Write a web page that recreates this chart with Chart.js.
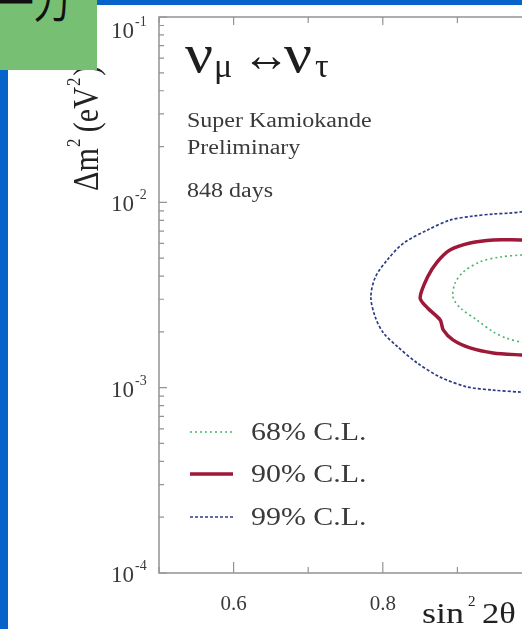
<!DOCTYPE html>
<html>
<head>
<meta charset="utf-8">
<script src="https://cdn.jsdelivr.net/npm/chart.js@4.4.1/dist/chart.umd.min.js"></script>
<style>
  html, body { margin: 0; padding: 0; width: 522px; height: 629px; overflow: hidden; background: #0563c9; }
  #panel { position: absolute; left: 8px; top: 5px; width: 600px; height: 700px; background: #ffffff; z-index: 1; }
  #oscChart { position: absolute; left: 0; top: 0; z-index: 2; }
  #tag { position: absolute; left: 0; top: 0; width: 97px; height: 70px; background: #77bf72; overflow: hidden; z-index: 5; }
  #tag span { position: absolute; left: -2px; top: -31px; font: 42px "Noto Sans CJK SC", sans-serif; color: #111; white-space: nowrap; transform: scaleX(0.85); transform-origin: left top; }
</style>
</head>
<body>
<div id="panel"></div>
<canvas id="oscChart" width="545" height="629"></canvas>
<div id="tag"><span>一刀</span></div>

<script>
// =========================
// Data
// =========================

const xTickValues = [0.5, 0.6, 0.7, 0.8, 0.9, 1.0];
const xTickLabels = ["0.6", "0.8"];
const yDecades = [-4, -3, -2, -1];

const cl68Label = "68% C.L.";
const cl68X = [1.0, 0.986, 0.957, 0.930, 0.908, 0.897, 0.894, 0.904, 0.926, 0.948, 0.966, 0.986, 1.0];
const cl68Y = [5.25e-3, 5.20e-3, 5.07e-3, 4.77e-3, 4.21e-3, 3.67e-3, 3.08e-3, 2.69e-3, 2.32e-3, 2.00e-3, 1.85e-3, 1.76e-3, 1.74e-3];

const cl90Label = "90% C.L.";
const cl90X = [1.0, 0.986, 0.948, 0.917, 0.890, 0.873, 0.860, 0.850, 0.860, 0.877, 0.881, 0.894, 0.917, 0.948, 0.986, 1.0];
const cl90Y = [6.3e-3, 6.27e-3, 6.27e-3, 6.03e-3, 5.53e-3, 4.77e-3, 3.95e-3, 3.05e-3, 2.69e-3, 2.32e-3, 2.05e-3, 1.81e-3, 1.64e-3, 1.54e-3, 1.50e-3, 1.49e-3];

const cl99Label = "99% C.L.";
const cl99X = [1.0, 0.986, 0.970, 0.948, 0.921, 0.890, 0.860, 0.828, 0.806, 0.790, 0.784, 0.790, 0.801, 0.820, 0.846, 0.877, 0.913, 0.948, 0.986, 1.0];
const cl99Y = [9.2e-3, 8.9e-3, 8.75e-3, 8.65e-3, 8.43e-3, 8.02e-3, 7.09e-3, 6.03e-3, 4.89e-3, 3.95e-3, 3.08e-3, 2.40e-3, 1.97e-3, 1.66e-3, 1.36e-3, 1.14e-3, 1.01e-3, 0.97e-3, 0.946e-3, 0.94e-3];

const toPoints = (xs, ys) => xs.map((x, i) => ({ x: x, y: ys[i] }));

const SERIF = "'Liberation Serif', 'DejaVu Serif', serif";
const AXIS_GREY = "#939393";
const TEXT = "#3a3a3a";

// the scanned figure is a bit wider than tall, so text gets stretched
function wideText(ctx, text, x, y, sx) {
  ctx.save();
  ctx.translate(x, y);
  ctx.scale(sx, 1);
  ctx.fillText(text, 0, 0);
  ctx.restore();
}


// =========================
// Frame, ticks and texts
// =========================

const framePlugin = {
  id: "frame",
  afterDraw(chart) {
    const ctx = chart.ctx;
    const a = chart.chartArea;
    const xs = chart.scales.x;
    const ys = chart.scales.y;

    ctx.save();

    // box
    ctx.strokeStyle = AXIS_GREY;
    ctx.lineWidth = 1.5;
    ctx.strokeRect(a.left, a.top, a.right - a.left, a.bottom - a.top);

    // y ticks (log, inward on both sides)
    ctx.lineWidth = 1.2;
    yDecades.forEach(e => {
      for (let k = 1; k <= 9; k++) {
        if (e === -1 && k > 1) break;
        const py = ys.getPixelForValue(k * Math.pow(10, e));
        const len = k === 1 ? 8 : 5;
        ctx.beginPath();
        ctx.moveTo(a.left, py); ctx.lineTo(a.left + len, py);
        ctx.moveTo(a.right, py); ctx.lineTo(a.right - len, py);
        ctx.stroke();
      }
    });

    // x ticks (inward top and bottom)
    xTickValues.forEach(v => {
      const px = xs.getPixelForValue(v);
      const major = Math.round(v * 10) % 2 === 0;
      const len = major ? 11 : 6;
      ctx.beginPath();
      ctx.moveTo(px, a.bottom); ctx.lineTo(px, a.bottom - len);
      ctx.moveTo(px, a.top); ctx.lineTo(px, a.top + (major ? 8 : 6));
      ctx.stroke();
    });

    // y tick labels 10^-n
    ctx.fillStyle = TEXT;
    ctx.textBaseline = "alphabetic";
    yDecades.forEach(e => {
      let py = ys.getPixelForValue(Math.pow(10, e));
      if (py < a.top + 12) py = a.top + 12;
      ctx.font = "23px " + SERIF;
      ctx.textAlign = "right";
      ctx.fillText("10", a.left - 25, py + 9);
      ctx.font = "14px " + SERIF;
      ctx.textAlign = "left";
      ctx.fillText("-" + (-e), a.left - 24, py - 3);
    });

    // x tick labels
    ctx.font = "21px " + SERIF;
    ctx.textAlign = "center";
    xTickLabels.forEach(t => {
      const px = xs.getPixelForValue(parseFloat(t));
      ctx.fillText(t, px, a.bottom + 37);
    });

    // x title: sin^2 2θ
    ctx.fillStyle = "#222";
    ctx.textAlign = "left";
    ctx.font = "30px " + SERIF;
    wideText(ctx, "sin", 422, 623, 1.2);
    ctx.font = "15px " + SERIF;
    ctx.fillText("2", 468, 606);
    ctx.font = "30px " + SERIF;
    wideText(ctx, "2θ", 482, 623, 1.15);

    // y title: Δm² (eV²), rotated
    ctx.save();
    ctx.translate(98, 191);
    ctx.rotate(-Math.PI / 2);
    ctx.scale(1.12, 1.3);
    ctx.font = "27px " + SERIF;
    ctx.fillText("Δm", 0, 0);
    let w = ctx.measureText("Δm").width;
    ctx.font = "15px " + SERIF;
    ctx.fillText("2", w + 1, -14);
    ctx.font = "27px " + SERIF;
    ctx.fillText("(eV", w + 14, 0);
    let w2 = ctx.measureText("(eV").width;
    ctx.font = "15px " + SERIF;
    ctx.fillText("2", w + 15 + w2, -14);
    ctx.font = "27px " + SERIF;
    ctx.fillText(")", w + 24 + w2, 0);
    ctx.restore();

    // reaction title
    ctx.fillStyle = "#1e1e1e";
    ctx.font = "54px " + SERIF;
    wideText(ctx, "ν", 185, 72, 1.15);
    ctx.font = "34px " + SERIF;
    ctx.fillText("μ", 214, 77);
    ctx.font = "48px " + SERIF;
    ctx.fillText("↔", 242, 71);
    ctx.font = "54px " + SERIF;
    wideText(ctx, "ν", 284, 72, 1.15);
    ctx.font = "34px " + SERIF;
    ctx.fillText("τ", 315, 77);

    // notes
    ctx.fillStyle = TEXT;
    ctx.font = "20px " + SERIF;
    wideText(ctx, "Super Kamiokande", 187, 127, 1.2);
    wideText(ctx, "Preliminary", 187, 154, 1.2);
    wideText(ctx, "848 days", 187, 197, 1.2);

    // legend from the datasets
    const rows = [432, 474, 517];
    chart.data.datasets.forEach((ds, i) => {
      const y = rows[i];
      ctx.strokeStyle = ds.borderColor;
      ctx.lineWidth = ds.borderWidth;
      ctx.setLineDash(ds.borderDash || []);
      ctx.beginPath();
      ctx.moveTo(190, y); ctx.lineTo(233, y);
      ctx.stroke();
      ctx.setLineDash([]);
      ctx.fillStyle = TEXT;
      ctx.font = "26px " + SERIF;
      ctx.textBaseline = "middle";
      wideText(ctx, ds.label, 251, y + 1, 1.15);
      ctx.textBaseline = "alphabetic";
    });

    ctx.restore();
  }
};


// =========================
// Contour chart
// =========================

new Chart(document.getElementById("oscChart"), {
  type: "scatter",
  data: {
    datasets: [
      {
        label: cl68Label,
        data: toPoints(cl68X, cl68Y),
        showLine: true,
        borderColor: "#4bb56e",
        borderWidth: 1.6,
        borderDash: [2, 3],
        pointRadius: 0,
        tension: 0.3
      },
      {
        label: cl90Label,
        data: toPoints(cl90X, cl90Y),
        showLine: true,
        borderColor: "#9e1838",
        borderWidth: 3.5,
        pointRadius: 0,
        tension: 0.25
      },
      {
        label: cl99Label,
        data: toPoints(cl99X, cl99Y),
        showLine: true,
        borderColor: "#2b3a86",
        borderWidth: 1.7,
        borderDash: [3, 2],
        pointRadius: 0,
        tension: 0.3
      }
    ]
  },
  options: {
    responsive: false,
    animation: false,
    layout: {
      padding: { left: 159, top: 17, right: 13, bottom: 56 }
    },
    plugins: {
      legend: { display: false },
      tooltip: { enabled: false }
    },
    scales: {
      x: { type: "linear", min: 0.5, max: 1.0, display: false },
      y: { type: "logarithmic", min: 1e-4, max: 1e-1, display: false }
    }
  },
  plugins: [framePlugin]
});
</script>
</body>
</html>
